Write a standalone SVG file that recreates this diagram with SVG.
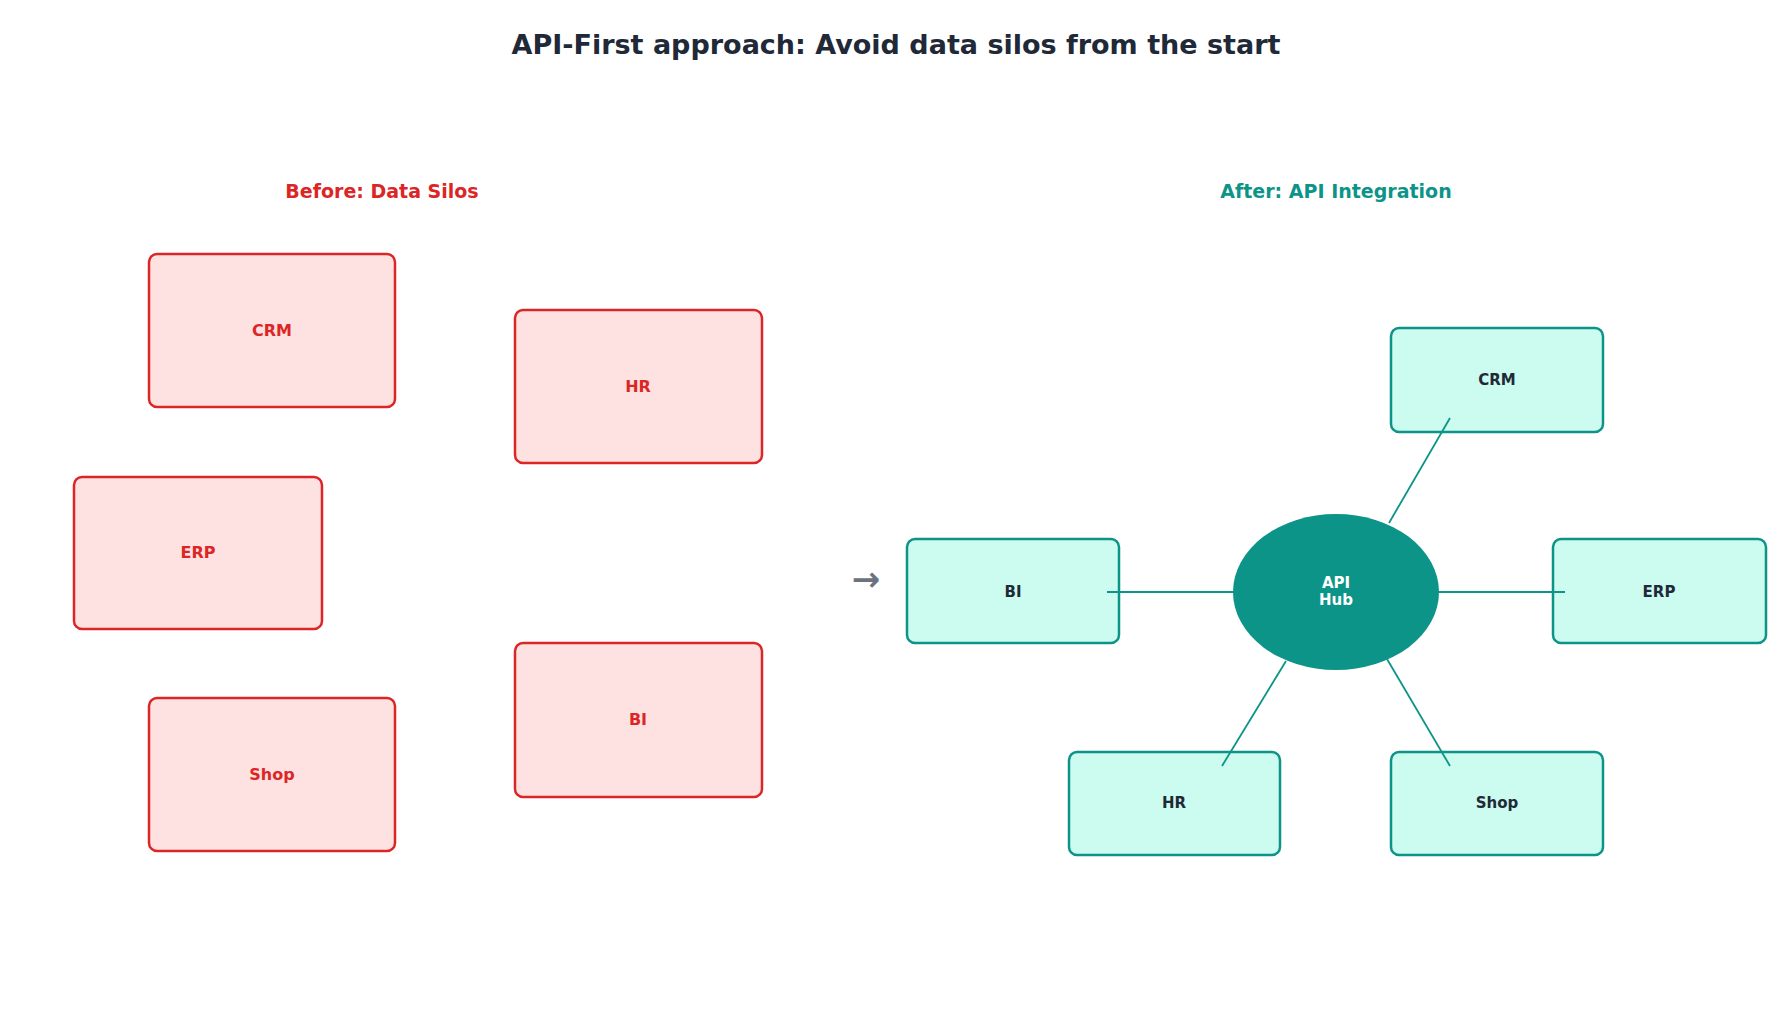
<svg xmlns="http://www.w3.org/2000/svg" width="1792" height="1024" viewBox="0 0 1792 1024">
<style>
text{font-family:"DejaVu Sans","Noto Sans",sans-serif;font-weight:bold;text-anchor:middle;dominant-baseline:central}
.silo rect{fill:#fee2e2;stroke:#dc2626;stroke-width:2.5}
.silo text{fill:#dc2626;font-size:16px}
.sys rect{fill:#ccfbef;stroke:#0d9488;stroke-width:2.5}
.sys text{fill:#1f2937;font-size:15px}
.conn line{stroke:#0d9488;stroke-width:1.8}
</style>
<rect width="1792" height="1024" fill="#fff"/>
<text x="896" y="44" font-size="27" fill="#1f2937">API-First approach: Avoid data silos from the start</text>
<text x="382" y="191" font-size="19" fill="#dc2626">Before: Data Silos</text>
<text x="1336" y="191" font-size="19" fill="#0d9488">After: API Integration</text>
<g id="l-crm" class="silo"><rect x="149" y="254" width="246" height="153" rx="8"/><text x="272" y="330">CRM</text></g>
<g id="l-hr" class="silo"><rect x="515" y="310" width="247" height="153" rx="8"/><text x="638" y="386">HR</text></g>
<g id="l-erp" class="silo"><rect x="74" y="477" width="248" height="152" rx="8"/><text x="198" y="552">ERP</text></g>
<g id="l-shop" class="silo"><rect x="149" y="698" width="246" height="153" rx="8"/><text x="272" y="774">Shop</text></g>
<g id="l-bi" class="silo"><rect x="515" y="643" width="247" height="154" rx="8"/><text x="638" y="719">BI</text></g>
<text x="866" y="579" font-size="34" fill="#6b7280" font-weight="normal">→</text>
<g id="r-crm" class="sys"><rect x="1391" y="328" width="212" height="104" rx="8"/><text x="1497" y="380">CRM</text></g>
<g id="r-bi" class="sys"><rect x="907" y="539" width="212" height="104" rx="8"/><text x="1013" y="592">BI</text></g>
<g id="r-erp" class="sys"><rect x="1553" y="539" width="213" height="104" rx="8"/><text x="1659" y="592">ERP</text></g>
<g id="r-hr" class="sys"><rect x="1069" y="752" width="211" height="103" rx="8"/><text x="1174" y="803">HR</text></g>
<g id="r-shop" class="sys"><rect x="1391" y="752" width="212" height="103" rx="8"/><text x="1497" y="803">Shop</text></g>
<g id="connectors" class="conn">
<line x1="1389" y1="523" x2="1450" y2="418"/>
<line x1="1107" y1="592" x2="1234" y2="592"/>
<line x1="1439" y1="592" x2="1565" y2="592"/>
<line x1="1286" y1="661" x2="1222" y2="766"/>
<line x1="1387" y1="659" x2="1450" y2="766"/>
</g>
<g id="hub"><ellipse cx="1336" cy="592" rx="103" ry="78" fill="#0d9488"/><text x="1336" y="583" font-size="15" fill="#fff">API</text><text x="1336" y="600" font-size="15" fill="#fff">Hub</text></g>
</svg>
